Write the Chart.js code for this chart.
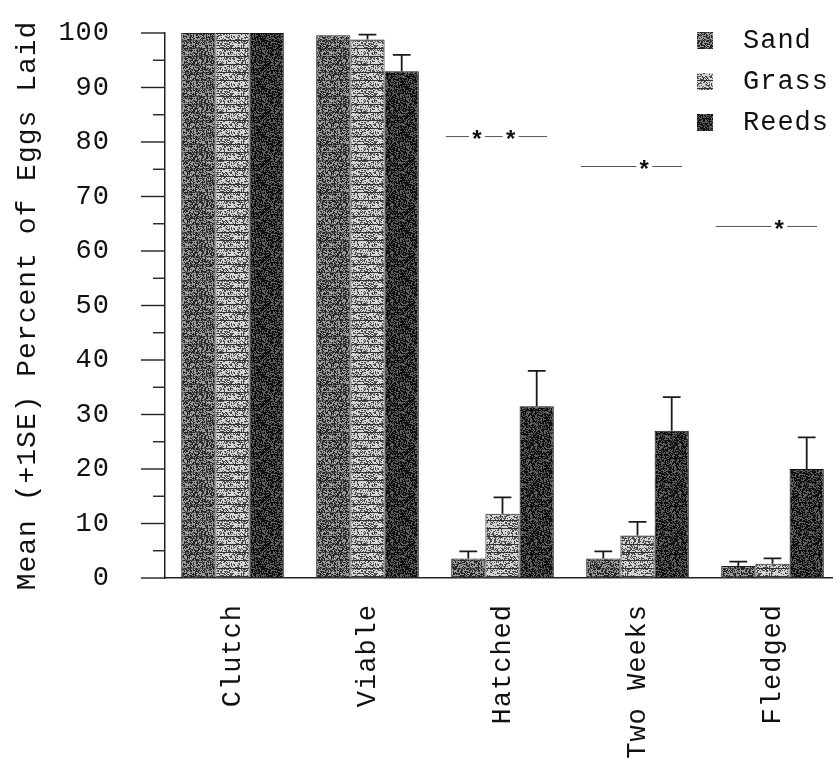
<!DOCTYPE html>
<html>
<head>
<meta charset="utf-8">
<script src="https://cdn.jsdelivr.net/npm/chart.js@4.4.0/dist/chart.umd.min.js"></script>
<style>
html,body{margin:0;padding:0;background:#fff;overflow:hidden}
#wrap{width:840px;height:780px}
</style>
</head>
<body>
<div id="wrap"><canvas id="chart"></canvas></div>
<script>
// stages of nesting
const stages = ['Clutch', 'Viable', 'Hatched', 'Two Weeks', 'Fledged'];

// mean percent of eggs laid, and +1 SE
const sandMean  = [100, 99.6, 3.6, 3.6, 2.2];
const sandSE    = [0, 0, 1.3, 1.3, 0.8];
const grassMean = [100, 98.8, 11.8, 7.8, 2.6];
const grassSE   = [0, 0.9, 3.0, 2.5, 1.0];
const reedsMean = [100, 93, 31.5, 27, 20];
const reedsSE   = [0, 3.0, 6.5, 6.2, 5.8];

// significance lines (value on y axis) and number of stars
const sigLevel = [null, null, 81, 75.5, 64.5];
const sigStars = [0, 0, 2, 1, 1];

const FONT = "'Liberation Mono', 'Courier New', monospace";
const canvas = document.getElementById('chart');
const ctx = canvas.getContext('2d');

function makePattern(bg, ink, density, lineGap, lineColor){
    const c = document.createElement('canvas');
    c.width = 48; c.height = 48;
    const g = c.getContext('2d');
    g.fillStyle = bg;
    g.fillRect(0, 0, 48, 48);
    g.fillStyle = ink;
    for(let y = 0; y < 48; y++){
        for(let x = 0; x < 48; x++){
            let h = Math.imul(x, 374761393) + Math.imul(y, 668265263);
            h = Math.imul(h ^ (h >>> 13), 1274126177);
            h = (h ^ (h >>> 16)) >>> 0;
            if((h % 100) < density) g.fillRect(x, y, 1, 1);
        }
    }
    if(lineGap){
        g.fillStyle = lineColor;
        for(let y = 0; y < 48; y += lineGap) g.fillRect(0, y, 48, 1);
    }
    return ctx.createPattern(c, 'repeat');
}

const sandFill  = makePattern('#9a9a9a', '#262626', 48, 8, 'rgba(30,30,30,0.5)');
const grassFill = makePattern('#d4d4d4', '#4a4a4a', 38, 8, '#333333');
const reedsFill = makePattern('#5e5e5e', '#0e0e0e', 58, 0, null);

// the typewritten labels are a little spread out
const spacing = {
    id: 'spacing',
    beforeUpdate(chart){ chart.ctx.letterSpacing = '1px' },
    beforeDraw(chart){ chart.ctx.letterSpacing = '1px' }
};

// major + minor ticks on the y axis
const yTickMarks = {
    id: 'yTickMarks',
    afterDraw(chart){
        const y = chart.scales.y;
        const c = chart.ctx;
        c.save();
        c.strokeStyle = '#222';
        c.lineWidth = 1.4;
        for(let v = 0; v <= 100; v += 5){
            const py = y.getPixelForValue(v);
            const len = v % 10 === 0 ? 24 : 12;
            c.beginPath();
            c.moveTo(y.right - len, py);
            c.lineTo(y.right, py);
            c.stroke();
        }
        c.restore();
    }
};

const errorBars = {
    id: 'errorBars',
    afterDatasetsDraw(chart){
        const y = chart.scales.y;
        const c = chart.ctx;
        c.save();
        c.strokeStyle = '#1a1a1a';
        c.lineWidth = 1.8;
        chart.data.datasets.forEach((ds, i) => {
            chart.getDatasetMeta(i).data.forEach((bar, j) => {
                const se = ds.se[j];
                if(!se) return;
                const top = y.getPixelForValue(ds.data[j] + se);
                const half = bar.width * 0.26;
                c.beginPath();
                c.moveTo(bar.x, bar.y);
                c.lineTo(bar.x, top);
                c.moveTo(bar.x - half, top);
                c.lineTo(bar.x + half, top);
                c.stroke();
            });
        });
        c.restore();
    }
};

const sigLines = {
    id: 'sigLines',
    afterDatasetsDraw(chart){
        const {x, y} = chart.scales;
        const c = chart.ctx;
        const w = x.width / stages.length;
        c.save();
        c.strokeStyle = '#555';
        c.lineWidth = 1;
        c.fillStyle = '#111';
        c.font = 'bold 24px ' + FONT;
        c.textAlign = 'center';
        c.textBaseline = 'middle';
        c.letterSpacing = '0px';
        sigLevel.forEach((lvl, j) => {
            if(lvl == null) return;
            const cx = x.getPixelForValue(j);
            const py = y.getPixelForValue(lvl);
            const x0 = cx - 0.42 * w, x1 = cx + 0.33 * w;
            const stars = sigStars[j] === 2 ? [cx - 0.19 * w, cx + 0.06 * w] : [cx + 0.05 * w];
            let from = x0;
            stars.forEach(sx => {
                c.beginPath(); c.moveTo(from, py); c.lineTo(sx - 8, py); c.stroke();
                c.fillText('*', sx, py + 5);
                from = sx + 8;
            });
            c.beginPath(); c.moveTo(from, py); c.lineTo(x1, py); c.stroke();
        });
        c.restore();
    }
};

const boxLegend = {
    id: 'boxLegend',
    afterDraw(chart){
        const c = chart.ctx;
        const left = chart.chartArea.right - 143;
        c.save();
        c.font = '27px ' + FONT;
        c.textBaseline = 'middle';
        chart.data.datasets.forEach((ds, i) => {
            const cy = chart.chartArea.top + 7 + i * 41;
            c.fillStyle = ds.backgroundColor;
            c.fillRect(left, cy - 8, 16, 17);
            c.fillStyle = '#111';
            c.fillText(ds.label, left + 46, cy + 1);
        });
        c.restore();
    }
};

const myChart = new Chart(ctx, {
    type: 'bar',
    data: {
        labels: stages,
        datasets: [{
            label: 'Sand',
            data: sandMean,
            se: sandSE,
            backgroundColor: sandFill,
            borderColor: '#222',
            borderWidth: 1
        }, {
            label: 'Grass',
            data: grassMean,
            se: grassSE,
            backgroundColor: grassFill,
            borderColor: '#222',
            borderWidth: 1
        }, {
            label: 'Reeds',
            data: reedsMean,
            se: reedsSE,
            backgroundColor: reedsFill,
            borderColor: '#111',
            borderWidth: 1
        }]
    },
    options: {
        responsive: true,
        maintainAspectRatio: false,
        animation: false,
        layout: { padding: { top: 33, right: 0, left: 0, bottom: 0 } },
        datasets: { bar: { categoryPercentage: 0.76, barPercentage: 1.0 } },
        plugins: {
            legend: { display: false },
            tooltip: { enabled: false }
        },
        scales: {
            x: {
                grid: { display: false },
                border: { display: true, color: '#222', width: 1.5 },
                ticks: {
                    color: '#111',
                    font: { family: FONT, size: 27 },
                    minRotation: 90,
                    maxRotation: 90,
                    padding: 18
                },
                afterFit(scale){ scale.height = 202 }
            },
            y: {
                min: 0,
                max: 100,
                grid: { display: true, drawOnChartArea: false, tickLength: 50, color: 'rgba(0,0,0,0)' },
                border: { display: true, color: '#222', width: 1.5 },
                ticks: {
                    stepSize: 10,
                    color: '#111',
                    font: { family: FONT, size: 27 },
                    padding: 5
                },
                title: {
                    display: true,
                    text: 'Mean (+1SE) Percent of Eggs Laid',
                    color: '#111',
                    font: { family: FONT, size: 28 },
                    padding: { top: 11, bottom: 0 }
                },
                afterFit(scale){ scale.width = 165 }
            }
        }
    },
    plugins: [spacing, yTickMarks, errorBars, sigLines, boxLegend]
});
</script>
</body>
</html>
